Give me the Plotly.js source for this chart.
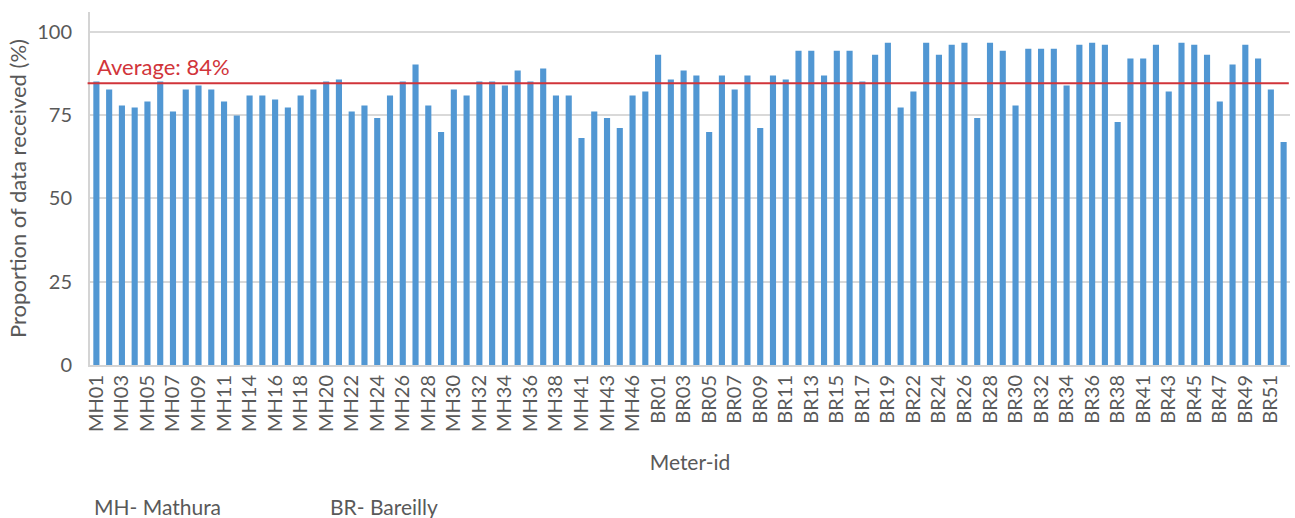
<!DOCTYPE html>
<html>
<head>
<meta charset="utf-8">
<script src="https://cdn.plot.ly/plotly-3.0.1.min.js"></script>
<style>html,body{margin:0;padding:0;background:#fff;}#chart{width:1295px;height:518px;}</style>
</head>
<body>
<div id="chart"></div>
<script>
const meterIds = [
  "MH01","MH02","MH03","MH04","MH05","MH06","MH07","MH08","MH09","MH10",
  "MH11","MH12","MH14","MH15","MH16","MH17","MH18","MH19","MH20","MH21",
  "MH22","MH23","MH24","MH25","MH26","MH27","MH28","MH29","MH30","MH31",
  "MH32","MH33","MH34","MH35","MH36","MH37","MH38","MH39","MH41","MH42",
  "MH43","MH44","MH46","MH47",
  "BR01","BR02","BR03","BR04","BR05","BR06","BR07","BR08","BR09","BR10",
  "BR11","BR12","BR13","BR14","BR15","BR16","BR17","BR18","BR19","BR20",
  "BR22","BR23","BR24","BR25","BR26","BR27","BR28","BR29","BR30","BR31",
  "BR32","BR33","BR34","BR35","BR36","BR37","BR38","BR40","BR41","BR42",
  "BR43","BR44","BR45","BR46","BR47","BR48","BR49","BR50","BR51","BR52"
];
const proportionReceived = [
  85.1,82.7,77.9,77.3,79.1,85.1,76.1,82.7,83.9,82.7,
  79.1,74.9,80.9,80.9,79.7,77.3,80.9,82.7,85.1,85.7,
  76.1,77.9,74.2,80.9,85.1,90.2,77.9,70.0,82.7,80.9,
  85.1,85.1,83.9,88.4,85.1,89.0,80.9,80.9,68.2,76.1,
  74.2,71.2,80.9,82.1,
  93.2,85.7,88.4,86.9,70.0,86.9,82.7,86.9,71.2,86.9,
  85.7,94.4,94.4,86.9,94.4,94.4,85.1,93.2,96.8,77.3,
  82.1,96.8,93.2,96.2,96.8,74.2,96.8,94.4,77.9,95.0,
  95.0,95.0,83.9,96.2,96.8,96.2,73.0,92.0,92.0,96.2,
  82.1,96.8,96.2,93.2,79.1,90.2,96.2,92.0,82.7,67.0
];
const tickLabels = [
  "MH01","MH03","MH05","MH07","MH09","MH11","MH14","MH16","MH18","MH20",
  "MH22","MH24","MH26","MH28","MH30","MH32","MH34","MH36","MH38","MH41",
  "MH43","MH46",
  "BR01","BR03","BR05","BR07","BR09","BR11","BR13","BR15","BR17","BR19",
  "BR22","BR24","BR26","BR28","BR30","BR32","BR34","BR36","BR38","BR41",
  "BR43","BR45","BR47","BR49","BR51"
];
const yTicks = [0, 25, 50, 75, 100];
const averageValue = 84.6;
const averageLabel = "Average: 84%";
const footnotes = ["MH- Mathura", "BR- Bareilly"];

const FONT = "Lato, 'Open Sans', sans-serif";
const GREY = "#595959";
const RED = "#D1343A";

const trace = {
  type: "bar",
  x: meterIds,
  y: proportionReceived,
  marker: {color: "#5197D3"},
  hoverinfo: "x+y"
};

const layout = {
  width: 1295,
  height: 518,
  margin: {l: 90, r: 5, t: 12, b: 153},
  paper_bgcolor: "#fff",
  plot_bgcolor: "#fff",
  bargap: 0.52,
  showlegend: false,
  font: {family: FONT, color: GREY, size: 20},
  xaxis: {
    type: "category",
    tickmode: "array",
    tickvals: tickLabels,
    ticktext: tickLabels,
    tickangle: -90,
    tickfont: {size: 20, color: GREY, family: FONT},
    showline: true,
    linecolor: "#d4d4d4",
    linewidth: 2,
    ticks: "",
    showgrid: false,
    automargin: false,
    title: {text: "Meter-id", font: {size: 21, color: GREY, family: FONT}, standoff: 24}
  },
  yaxis: {
    range: [0, 106],
    tickmode: "array",
    tickvals: yTicks,
    tickfont: {size: 20, color: GREY, family: FONT},
    ticklabelstandoff: 12,
    showline: true,
    linecolor: "#d4d4d4",
    linewidth: 2,
    showgrid: true,
    gridcolor: "#d9d9d9",
    gridwidth: 2,
    zeroline: false,
    automargin: false,
    title: {text: "Proportion of data received (%)", font: {size: 22, color: GREY, family: FONT}, standoff: 4}
  },
  shapes: [{
    type: "line", xref: "paper", yref: "y",
    x0: -0.002, x1: 0.999, y0: averageValue, y1: averageValue,
    line: {color: RED, width: 2}
  }],
  annotations: [
    {xref: "paper", yref: "y", x: 0.004, y: averageValue, xanchor: "left", yanchor: "bottom",
     yshift: 1, text: averageLabel, showarrow: false, font: {size: 22, color: RED, family: FONT}},
    {xref: "paper", yref: "paper", x: 0.002, y: -0.4, xanchor: "left", yanchor: "middle",
     text: footnotes[0], showarrow: false, font: {size: 21, color: GREY, family: FONT}},
    {xref: "paper", yref: "paper", x: 0.198, y: -0.4, xanchor: "left", yanchor: "middle",
     text: footnotes[1], showarrow: false, font: {size: 21, color: GREY, family: FONT}}
  ]
};

Plotly.newPlot("chart", [trace], layout, {displayModeBar: false, staticPlot: true});
</script>
</body>
</html>
